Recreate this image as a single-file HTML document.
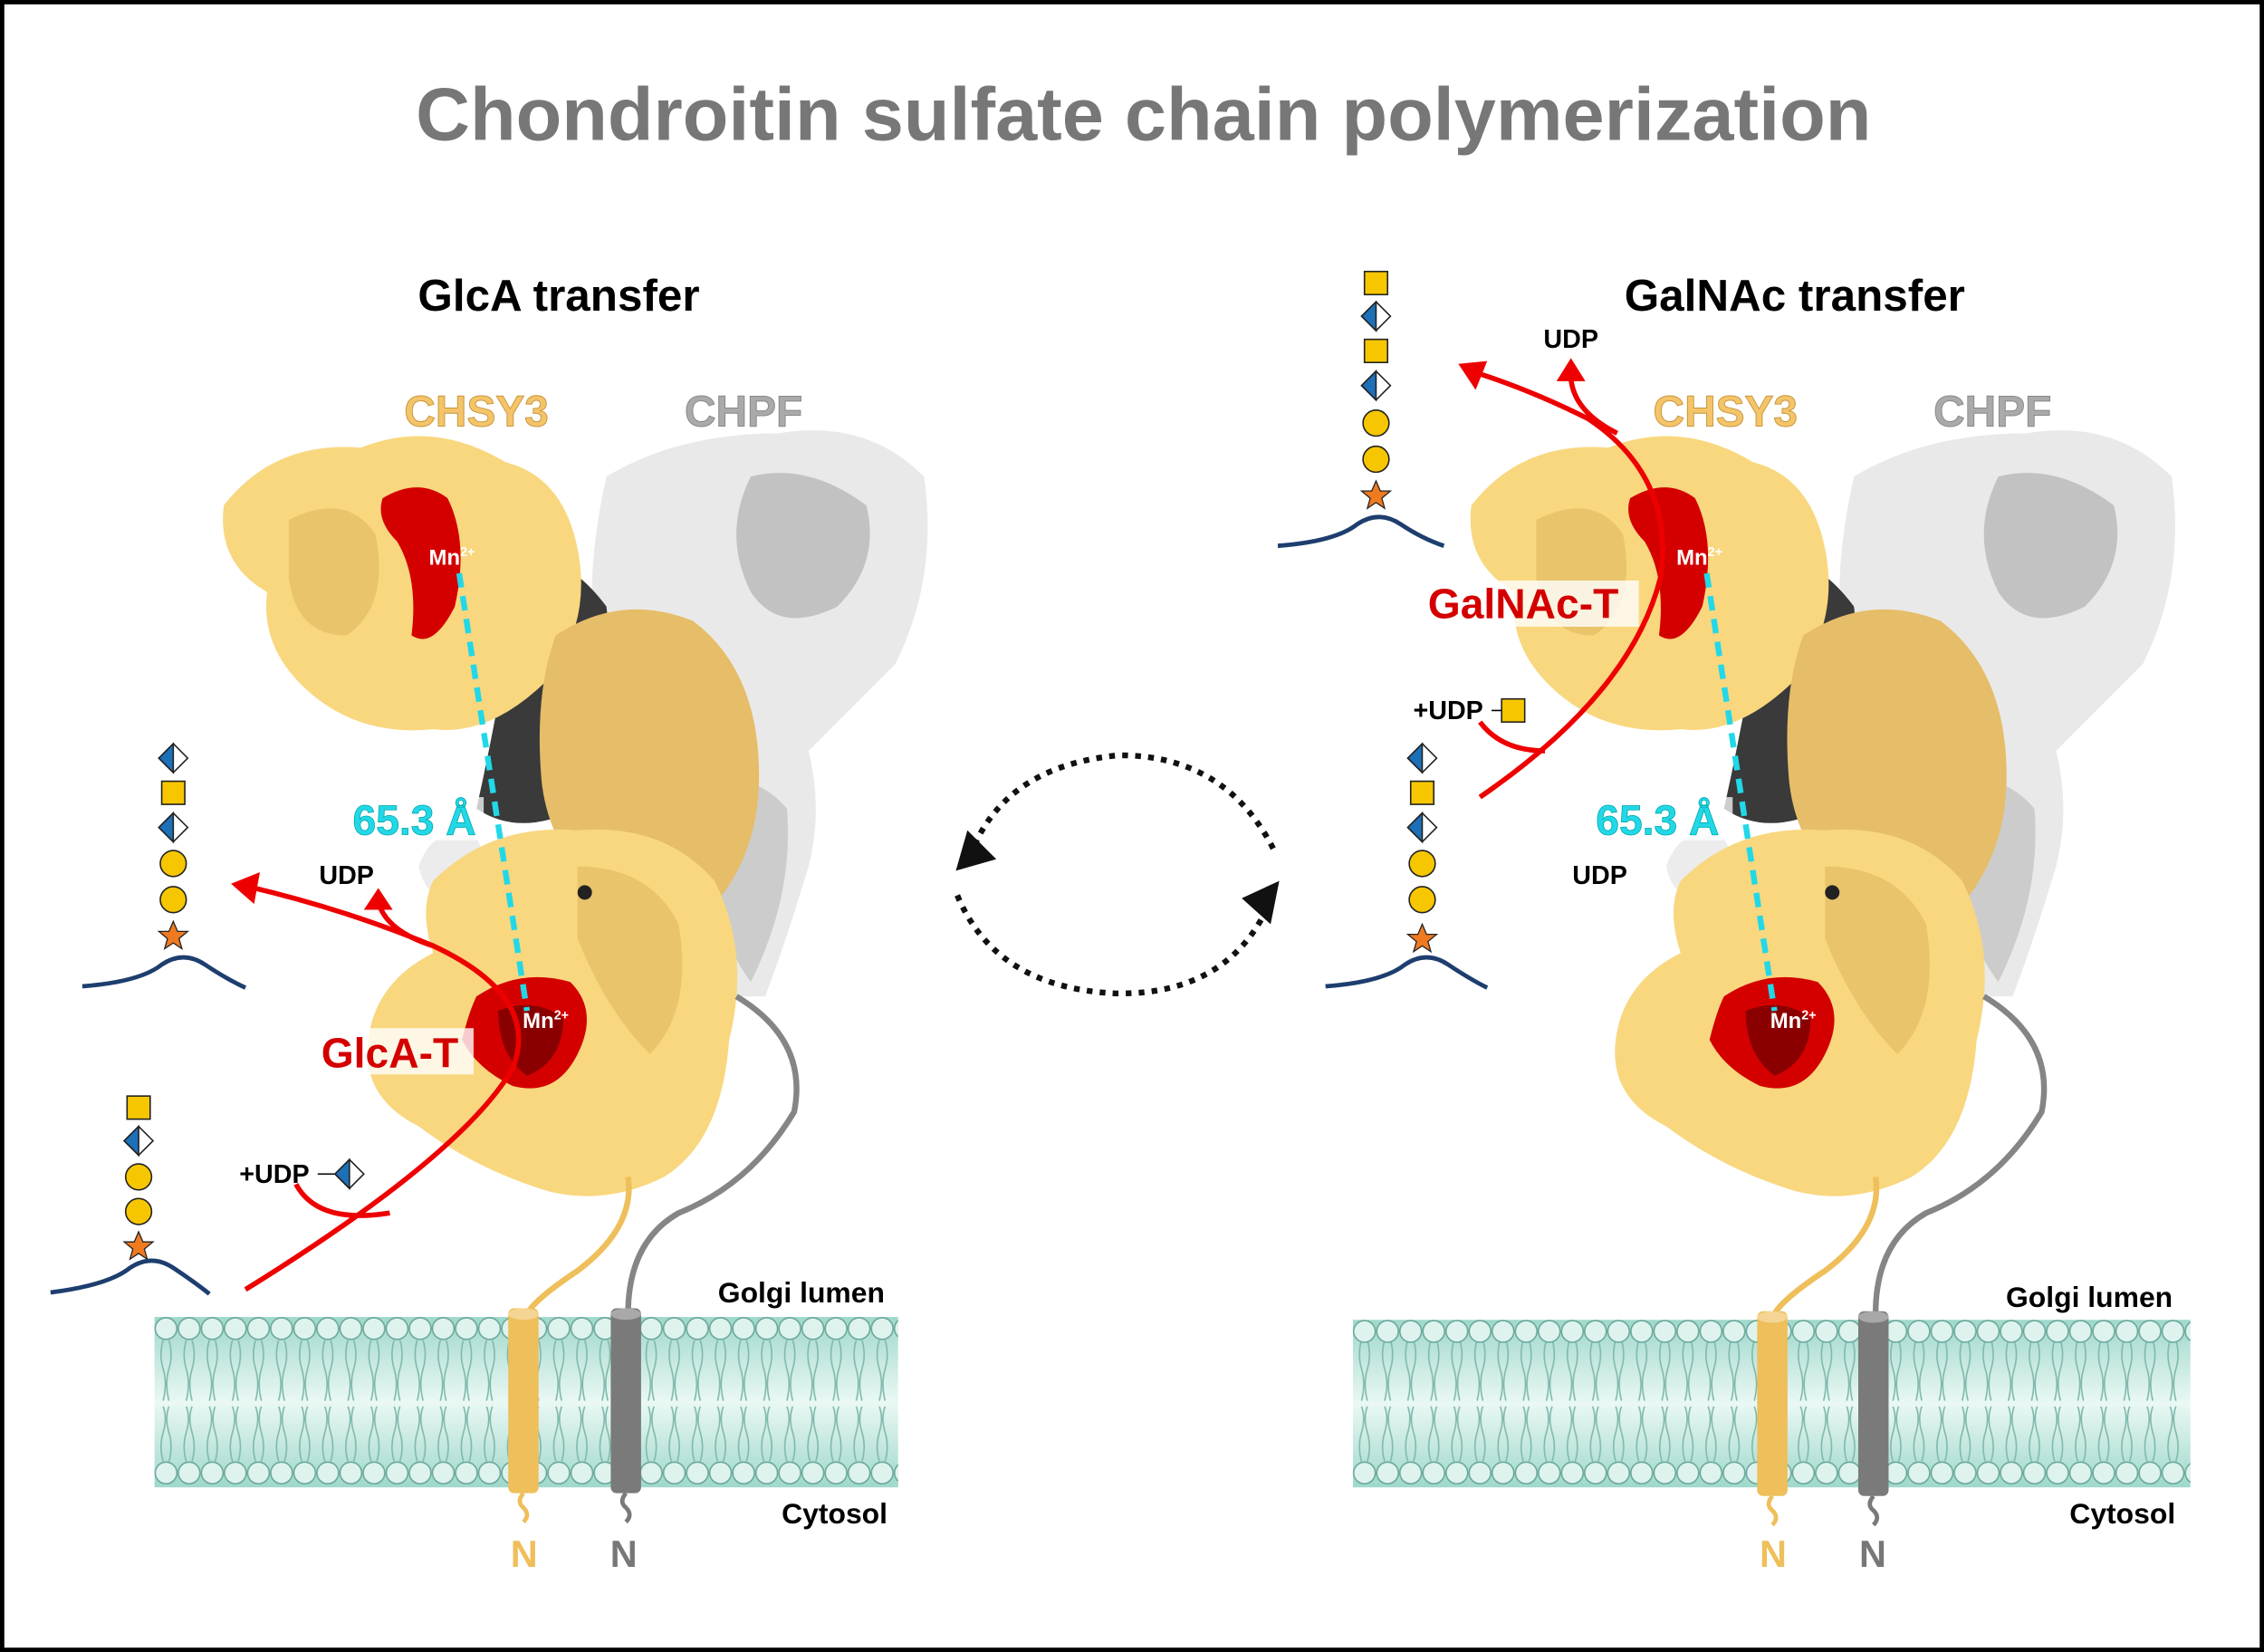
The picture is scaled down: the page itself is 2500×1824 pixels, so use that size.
<!DOCTYPE html>
<html><head><meta charset="utf-8"><style>
html,body{margin:0;padding:0;background:#fff}
svg{display:block}
text{font-family:"Liberation Sans",Arial,sans-serif;font-weight:bold}
</style></head><body>
<svg width="2500" height="1824" viewBox="0 0 1568 1144" xmlns="http://www.w3.org/2000/svg">
<defs>
<pattern id="lip" x="107" y="0" width="16" height="1144" patternUnits="userSpaceOnUse">
<path d="M6 928 q-3 10 0 20 q3 10 0 22 M10 928 q3 10 0 20 q-3 10 0 22 M6 1012 q-3 -10 0 -20 q3 -10 0 -18 M10 1012 q3 -10 0 -20 q-3 -10 0 -18" stroke="#7fb8ad" stroke-width="1" fill="none"/>
<circle cx="8" cy="920" r="7.5" fill="#dff3ee" stroke="#6aa89b" stroke-width="1"/>
<circle cx="8" cy="1020" r="7.5" fill="#dff3ee" stroke="#6aa89b" stroke-width="1"/>
</pattern>
<pattern id="lip2" x="937" y="0" width="16" height="1144" patternUnits="userSpaceOnUse">
<path d="M6 928 q-3 10 0 20 q3 10 0 22 M10 928 q3 10 0 20 q-3 10 0 22 M6 1012 q-3 -10 0 -20 q3 -10 0 -18 M10 1012 q3 -10 0 -20 q-3 -10 0 -18" stroke="#7fb8ad" stroke-width="1" fill="none"/>
<circle cx="8" cy="922" r="7.5" fill="#dff3ee" stroke="#6aa89b" stroke-width="1"/>
<circle cx="8" cy="1020" r="7.5" fill="#dff3ee" stroke="#6aa89b" stroke-width="1"/>
</pattern>
<linearGradient id="band" x1="0" y1="0" x2="0" y2="1">
<stop offset="0" stop-color="#9fd8cb"/><stop offset="0.5" stop-color="#eaf8f4"/><stop offset="1" stop-color="#9fd8cb"/></linearGradient>
<g id="prot">
<path d="M420 330 Q470 300 540 300 Q600 290 640 330 Q650 400 620 460 Q590 490 560 520 Q570 560 560 600 Q545 650 530 690 L480 690 Q470 600 440 560 Q400 520 420 470 Q400 420 420 330Z" fill="#e9e9e9"/>
<path d="M520 330 Q560 320 600 350 Q610 390 580 420 Q540 440 520 410 Q500 370 520 330Z" fill="#c2c2c2"/>
<path d="M470 540 Q520 530 545 560 Q550 620 520 680 Q490 640 470 540Z" fill="#cccccc"/>
<path d="M360 390 Q390 380 420 420 Q430 500 400 560 Q360 580 330 560 Q350 470 360 390Z" fill="#3a3a3a"/>
<path d="M155 350 Q190 305 250 310 Q300 290 350 320 Q390 330 400 380 Q410 430 380 470 Q340 510 300 505 Q250 510 215 480 Q180 450 185 410 Q150 390 155 350Z" fill="#f8d77f"/>
<path d="M200 360 Q240 340 260 370 Q270 420 240 440 Q205 440 200 400Z" fill="#e0b85e" opacity="0.6"/>
<path d="M385 440 Q430 410 480 430 Q520 460 525 520 Q530 580 500 620 Q460 640 420 620 Q380 590 375 540 Q370 480 385 440Z" fill="#e6bd68"/>
<path d="M290 600 Q300 570 330 580 Q345 610 320 625 Q295 625 290 600Z" fill="#ececec"/>
<path d="M300 610 Q340 570 400 575 Q460 570 495 610 Q520 660 505 720 Q500 790 460 815 Q420 835 380 825 Q330 810 290 780 Q250 760 255 720 Q260 680 300 660 Q290 630 300 610Z" fill="#f8d77f"/>
<path d="M400 600 Q450 600 470 640 Q480 700 450 730 Q420 700 400 650Z" fill="#e0b85e" opacity="0.6"/>
<circle cx="405" cy="618" r="5" fill="#222"/>
<path d="M265 345 Q290 330 310 345 Q325 375 315 420 Q300 450 285 440 Q290 400 275 375 Q260 360 265 345Z" fill="#d40000"/>
<path d="M330 690 Q360 670 395 680 Q415 700 400 730 Q385 760 355 752 Q330 740 320 720 Q325 700 330 690Z" fill="#d40000"/>
<path d="M345 700 Q370 690 390 705 Q390 735 365 745 Q345 730 345 700Z" fill="#8a0000"/>
<line x1="318" y1="397" x2="365" y2="700" stroke="#22d8e8" stroke-width="4" stroke-dasharray="10,6"/>
<path d="M435 815 Q440 850 400 880 Q370 900 365 910" stroke="#eebf5a" stroke-width="4" fill="none"/>
<path d="M510 690 Q560 720 550 770 Q520 820 470 840 Q435 860 435 910" stroke="#858585" stroke-width="4" fill="none"/>
<text x="297" y="391" font-size="15" fill="#fff">Mn<tspan font-size="9" dy="-6">2+</tspan></text>
<text x="362" y="712" font-size="15" fill="#fff">Mn<tspan font-size="9" dy="-6">2+</tspan></text>
</g>
<g id="cyl">
<rect x="0" y="0" width="21" height="128" rx="4" fill="currentColor"/>
<ellipse cx="10.5" cy="4" rx="10.5" ry="4" fill="#fff" opacity="0.35"/>
<path d="M10.5 128 q-5 6 0 10 q5 5 0 10" stroke="currentColor" stroke-width="3" fill="none"/>
</g>
<g id="sq"><rect x="-8" y="-8" width="16" height="16" fill="#f6c600" stroke="#222" stroke-width="1"/></g>
<g id="ci"><circle r="9" fill="#f6c600" stroke="#222" stroke-width="1"/></g>
<g id="di"><path d="M0 -10 L10 0 L0 10 L-10 0Z" fill="#fff" stroke="#222" stroke-width="1"/><path d="M0 -10 L0 10 L-10 0Z" fill="#1d6fb8" stroke="#222" stroke-width="1"/></g>
<g id="st"><path d="M0 -10 L3 -3 L10 -3 L4 2 L6 9 L0 5 L-6 9 L-4 2 L-10 -3 L-3 -3Z" fill="#f07a20" stroke="#222" stroke-width="0.8"/></g>
</defs>
<rect x="1.5" y="1.5" width="1565" height="1141" fill="#fff" stroke="#000" stroke-width="3"/>
<text x="792" y="97" font-size="52" fill="#777" text-anchor="middle">Chondroitin sulfate chain polymerization</text>

<text x="387" y="215" font-size="31" fill="#000" text-anchor="middle">GlcA transfer</text>
<text x="330" y="295" font-size="30" fill="#f4c46a" text-anchor="middle" stroke="#c9963a" stroke-width="0.6">CHSY3</text>
<text x="515" y="295" font-size="30" fill="#aaa" text-anchor="middle" stroke="#888" stroke-width="0.6">CHPF</text>
<use href="#prot"/>
<rect x="107" y="912" width="515" height="118" fill="url(#band)"/>
<rect x="107" y="900" width="515" height="135" fill="url(#lip)"/>
<use href="#cyl" x="352" y="906" style="color:#eebf5a"/>
<use href="#cyl" x="423" y="906" style="color:#7a7a7a"/>
<text x="363" y="1085" font-size="26" fill="#eebf5a" text-anchor="middle">N</text>
<text x="432" y="1085" font-size="26" fill="#777" text-anchor="middle">N</text>
<text x="555" y="902" font-size="20" fill="#000" text-anchor="middle">Golgi lumen</text>
<text x="578" y="1055" font-size="20" fill="#000" text-anchor="middle">Cytosol</text>
<rect x="230" y="552" width="105" height="30" fill="#fff" opacity="0.75"/>
<text x="287" y="578" font-size="29" fill="#22d8e8" text-anchor="middle" stroke="#0aa" stroke-width="0.5">65.3 Å</text>
<rect x="213" y="712" width="115" height="32" fill="#fff" opacity="0.8"/>
<text x="270" y="739" font-size="29" fill="#d40000" text-anchor="middle">GlcA-T</text>
<path d="M170 893 Q320 800 355 740 Q375 690 300 655 Q240 630 172 614" stroke="#e00" stroke-width="3.5" fill="none"/>
<path d="M160 612 L180 604 L176 626Z" fill="#e00"/>
<path d="M300 655 Q268 645 262 625" stroke="#e00" stroke-width="3.5" fill="none"/>
<path d="M252 630 L262 615 L272 630Z" fill="#e00"/>
<path d="M205 820 Q220 848 270 840" stroke="#e00" stroke-width="3.5" fill="none"/>
<text x="240" y="612" font-size="18" fill="#000" text-anchor="middle">UDP</text>
<text x="190" y="819" font-size="18" fill="#000" text-anchor="middle">+UDP</text>
<line x1="220" y1="813" x2="232" y2="813" stroke="#000"/><use href="#di" x="242" y="813"/>
<use href="#sq" x="96" y="767"/><use href="#di" x="96" y="790"/><use href="#ci" x="96" y="815"/><use href="#ci" x="96" y="839"/><use href="#st" x="96" y="863"/>
<path d="M35 895 Q75 890 90 878 Q105 868 120 878 Q135 888 145 896" stroke="#1d3e6e" stroke-width="3" fill="none"/>
<use href="#di" x="120" y="525"/><use href="#sq" x="120" y="549"/><use href="#di" x="120" y="573"/><use href="#ci" x="120" y="598"/><use href="#ci" x="120" y="623"/><use href="#st" x="120" y="648"/>
<path d="M57 683 Q97 680 112 668 Q127 658 142 668 Q157 678 170 684" stroke="#1d3e6e" stroke-width="3" fill="none"/>

<path d="M675 585 Q700 530 775 523 Q850 523 883 590" stroke="#111" stroke-width="4" stroke-dasharray="4,5" fill="none"/>
<path d="M663 620 Q690 685 775 688 Q850 688 878 628" stroke="#111" stroke-width="4" stroke-dasharray="4,5" fill="none"/>
<path d="M662 603 L670 575 L690 595Z" fill="#111"/>
<path d="M886 610 L880 640 L860 622Z" fill="#111"/>

<text x="1243" y="215" font-size="31" fill="#000" text-anchor="middle">GalNAc transfer</text>
<text x="1195" y="295" font-size="30" fill="#f4c46a" text-anchor="middle" stroke="#c9963a" stroke-width="0.6">CHSY3</text>
<text x="1380" y="295" font-size="30" fill="#aaa" text-anchor="middle" stroke="#888" stroke-width="0.6">CHPF</text>
<g transform="translate(864,0)"><use href="#prot"/></g>
<rect x="937" y="914" width="580" height="116" fill="url(#band)"/>
<rect x="937" y="902" width="580" height="133" fill="url(#lip2)"/>
<use href="#cyl" x="1217" y="908" style="color:#eebf5a"/>
<use href="#cyl" x="1287" y="908" style="color:#7a7a7a"/>
<text x="1228" y="1085" font-size="26" fill="#eebf5a" text-anchor="middle">N</text>
<text x="1297" y="1085" font-size="26" fill="#777" text-anchor="middle">N</text>
<text x="1447" y="905" font-size="20" fill="#000" text-anchor="middle">Golgi lumen</text>
<text x="1470" y="1055" font-size="20" fill="#000" text-anchor="middle">Cytosol</text>
<rect x="1095" y="552" width="105" height="30" fill="#fff" opacity="0.75"/>
<text x="1148" y="578" font-size="29" fill="#22d8e8" text-anchor="middle" stroke="#0aa" stroke-width="0.5">65.3 Å</text>
<text x="1108" y="612" font-size="18" fill="#000" text-anchor="middle">UDP</text>
<rect x="975" y="402" width="160" height="32" fill="#fff" opacity="0.8"/>
<text x="1055" y="428" font-size="29" fill="#d40000" text-anchor="middle">GalNAc-T</text>
<path d="M1025 552 Q1130 480 1150 400 Q1160 330 1100 290 Q1060 270 1022 258" stroke="#e00" stroke-width="3.5" fill="none"/>
<path d="M1010 252 L1030 250 L1022 270Z" fill="#e00"/>
<path d="M1120 300 Q1090 285 1088 262" stroke="#e00" stroke-width="3.5" fill="none"/>
<path d="M1078 264 L1088 248 L1098 264Z" fill="#e00"/>
<path d="M1025 500 Q1040 520 1070 520" stroke="#e00" stroke-width="3.5" fill="none"/>
<text x="1088" y="241" font-size="18" fill="#000" text-anchor="middle">UDP</text>
<text x="1003" y="498" font-size="18" fill="#000" text-anchor="middle">+UDP</text>
<line x1="1033" y1="492" x2="1040" y2="492" stroke="#000"/><use href="#sq" x="1048" y="492"/>
<use href="#sq" x="953" y="196"/><use href="#di" x="953" y="219"/><use href="#sq" x="953" y="243"/><use href="#di" x="953" y="267"/><use href="#ci" x="953" y="293"/><use href="#ci" x="953" y="318"/><use href="#st" x="953" y="343"/>
<path d="M885 378 Q925 375 940 363 Q955 353 970 363 Q985 373 1000 378" stroke="#1d3e6e" stroke-width="3" fill="none"/>
<use href="#di" x="985" y="525"/><use href="#sq" x="985" y="549"/><use href="#di" x="985" y="573"/><use href="#ci" x="985" y="598"/><use href="#ci" x="985" y="623"/><use href="#st" x="985" y="650"/>
<path d="M918 683 Q958 680 973 668 Q988 658 1003 668 Q1018 678 1030 684" stroke="#1d3e6e" stroke-width="3" fill="none"/>
</svg>
</body></html>
